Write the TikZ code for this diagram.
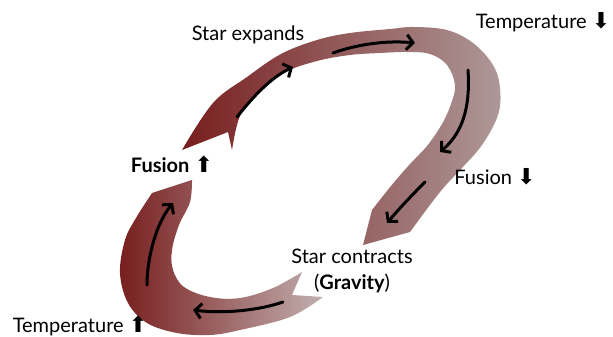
\documentclass[tikz,border=0pt]{standalone}
\usepackage{fontspec}
\setmainfont{Lato}
\newfontfamily\arrowfont{DejaVu Sans}
\usetikzlibrary{arrows.meta}
\definecolor{darkred}{RGB}{120,30,30}
\definecolor{midred}{RGB}{150,82,82}
\definecolor{mauve}{RGB}{174,152,152}
\definecolor{midmauve}{RGB}{155,100,100}
\definecolor{palemauve}{RGB}{194,175,175}
\newcommand{\arrowup}{{\arrowfont\fontsize{22}{22}\selectfont ⬆}}
\newcommand{\arrowdown}{{\arrowfont\fontsize{22}{22}\selectfont ⬇}}
\begin{document}
\begin{tikzpicture}[x=1pt,y=-1pt,
    cycarrow/.style={line width=3pt,line cap=round,-{Straight Barb[length=6.5pt,width=15pt]}},
    lbl/.style={font=\fontsize{20}{23}\selectfont,inner sep=0pt}]
  \useasboundingbox (0,0) rectangle (613,337);

  % upper half: the star expands
  \shade[left color=darkred,middle color=midred,right color=mauve]
    plot[smooth,tension=0.6] coordinates {(182,150) (213,103) (247,77) (281,54) (317,40) (350,33) (390,29) (413,27) (447,30) (473,43) (493,65) (500,88) (498,115) (482,145) (462,168) (440,192) (410,232)}
    -- (363,245) -- (372,210)
    -- plot[smooth,tension=0.6] coordinates {(372,210) (391,186) (410,164) (427,146) (442,124) (451,104) (455,85) (447,65) (430,54) (407,52) (380,53) (350,55) (317,61) (283,73) (258,93) (240,116) (232,150)}
    -- (228,132) -- cycle;

  % lower half: the star contracts
  \shade[left color=darkred,middle color=midmauve,right color=palemauve]
    (152,193) -- (192,180)
    -- plot[smooth,tension=0.6] coordinates {(192,180) (190,202) (179,225) (172,250) (173,270) (184,287) (210,297) (240,298) (273,288) (302,272)}
    -- (292,295) -- (323,297)
    -- plot[smooth,tension=0.6] coordinates {(323,297) (290,317) (240,330) (210,335) (177,333) (147,323) (128,303) (120,273) (125,240) (136,218) (152,193)}
    -- cycle;

  % arrows along the bands
  \draw[cycarrow] (237,117) .. controls (252,98) and (270,78) .. (293,67);
  \draw[cycarrow] (333,53) .. controls (355,45) and (385,40) .. (415,43);
  \draw[cycarrow] (468,70) .. controls (470,100) and (466,130) .. (440,152);
  \draw[cycarrow] (425,182) .. controls (410,197) and (398,210) .. (387,223);
  \draw[cycarrow] (283,302) .. controls (260,310) and (225,314) .. (193,310);
  \draw[cycarrow] (147,285) .. controls (147,260) and (155,225) .. (173,203);

  \node[lbl] (expands) at (248,35) {Star expands};
  \node[lbl] (tempdown) at (543,22) {Temperature \arrowdown};
  \node[lbl] (fusionup) at (172,164) {\textbf{Fusion} \arrowup};
  \node[lbl] (fusiondown) at (495,177) {Fusion \arrowdown};
  \node[lbl] (contracts) at (352,256) {Star contracts};
  \node[lbl] (gravity) at (352,283) {(\textbf{Gravity})};
  \node[lbl] (tempup) at (80,326) {Temperature \arrowup};
\end{tikzpicture}
\end{document}
